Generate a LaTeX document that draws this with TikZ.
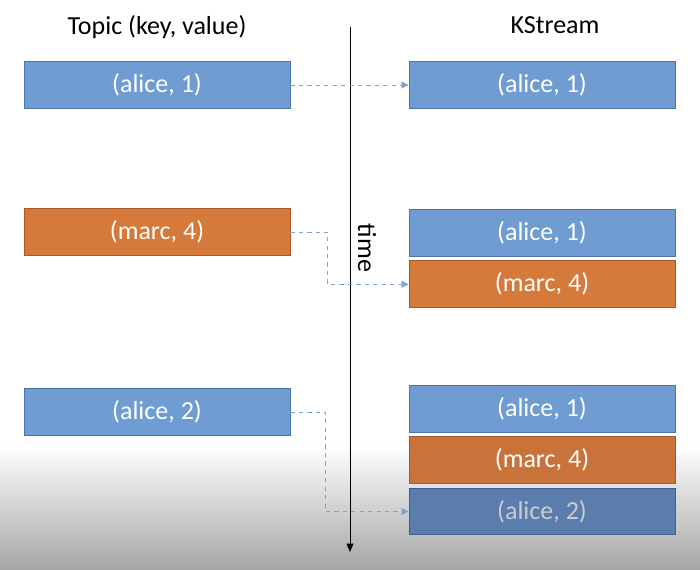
\documentclass[tikz,border=0pt]{standalone}
\usepackage{fontspec}
\setmainfont{Carlito}
\usetikzlibrary{positioning,arrows.meta}
\definecolor{recblue}{HTML}{6F9CD2}
\definecolor{recblueline}{HTML}{4A76A8}
\definecolor{recorange}{HTML}{D67A3C}
\definecolor{recorangeline}{HTML}{A85A26}
\definecolor{recshade}{HTML}{5A7DAE}
\definecolor{recshadeline}{HTML}{3F5F8A}
\definecolor{recorangeshade}{HTML}{C9733A}
\definecolor{flowline}{HTML}{7EA2CF}
\newdimen\boxGap

\begin{document}
\begin{tikzpicture}[
    x=0.025cm, y=-0.025cm,
    rec/.style={%
      draw=recblueline,
      fill=recblue,
      rectangle,
      line width=0.6pt,
      minimum width=6.65cm,
      minimum height=1.17cm,
      inner sep=0pt,
      text=white,
      font=\fontsize{18.5}{22}\selectfont,
    },
    recm/.style={%
      rec,
      draw=recorangeline,
      fill=recorange,
    },
    flow/.style={%
      draw=flowline,
      dashed,
      line width=0.7pt,
      -{Triangle[length=5pt,width=5pt]},
    },
    title/.style={%
      font=\fontsize{18.5}{22}\selectfont,
    },
  ]
    \boxGap=0.09cm

    % background, with the darker band at the bottom
    \fill [white] (0,0) rectangle (700,570);
    \shade [top color=white, bottom color=black!35] (0,445) rectangle (700,570);

    \node [title] (topic) at (157,27) {Topic (key, value)};
    \node [title] (kstream) at (555,25) {KStream};

    % time axis
    \coordinate (t0) at (350,27);
    \coordinate (t1) at (350,552);
    \draw [line width=0.6pt, -{Triangle[length=6pt,width=5pt]}] (t0) -- (t1);
    \node [title, rotate=-90] (time) at (367,248) {time};

    % topic
    \node [rec] (L1) at (157,85) {(alice, 1)};
    \node [recm] (L2) at (157,232) {(marc, 4)};
    \node [rec] (L3) at (157,412) {(alice, 2)};

    % kstream
    \node [rec] (R1) at (542,85) {(alice, 1)};
    \node [rec] (R2a) at (542,233) {(alice, 1)};
    \node [recm, below=\boxGap of R2a] (R2b) {(marc, 4)};
    \node [rec] (R3a) at (542,409) {(alice, 1)};
    \node [recm, fill=recorangeshade, below=\boxGap of R3a] (R3b) {(marc, 4)};
    \node [rec, fill=recshade, draw=recshadeline, text=black!20,
      below=\boxGap of R3b] (R3c) {(alice, 2)};

    \draw [flow] (L1) -- (R1);
    \draw [flow] (L2.east) -| ++(37,0) |- (R2b.west);
    \draw [flow] (L3.east) -| ++(35,0) |- (R3c.west);

\end{tikzpicture}
\end{document}
